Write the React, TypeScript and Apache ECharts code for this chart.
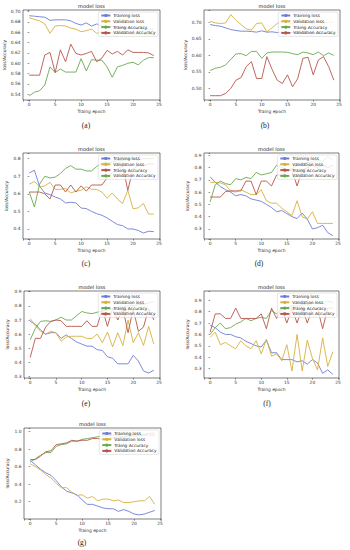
import React, { useEffect, useRef } from 'react';
import * as echarts from 'echarts';

const epochs = [0, 1, 2, 3, 4, 5, 6, 7, 8, 9, 10, 11, 12, 13, 14, 15, 16, 17, 18, 19, 20, 21, 22, 23, 24];
const xTicks = [0, 5, 10, 15, 20, 25];
const legendNames = ['Training loss', 'Validation loss', 'Traing Accuracy', 'Validation Accuracy'];

// (a)
const aTrainLoss = [0.692,0.691,0.690,0.689,0.683,0.684,0.684,0.684,0.682,0.677,0.674,0.678,0.672,0.676,0.672,0.671,0.670,0.670,0.669,0.669,0.668,0.667,0.667,0.666,0.666];
const aValLoss = [0.688,0.685,0.682,0.676,0.658,0.672,0.673,0.672,0.668,0.666,0.661,0.663,0.666,0.658,0.661,0.658,0.659,0.657,0.658,0.657,0.656,0.657,0.656,0.655,0.655];
const aTrainAcc = [0.537,0.544,0.547,0.558,0.593,0.582,0.589,0.583,0.583,0.583,0.609,0.585,0.607,0.606,0.606,0.593,0.573,0.593,0.596,0.600,0.602,0.597,0.606,0.611,0.611];
const aValAcc = [0.577,0.577,0.577,0.616,0.621,0.582,0.626,0.603,0.637,0.619,0.616,0.619,0.623,0.603,0.610,0.625,0.618,0.623,0.616,0.626,0.621,0.621,0.621,0.620,0.615];
// (b)
const bTrainLoss = [0.693,0.690,0.688,0.683,0.678,0.675,0.673,0.673,0.672,0.670,0.674,0.670,0.671,0.669,0.670,0.669,0.669,0.668,0.668,0.668,0.667,0.667,0.667,0.666,0.666];
const bValLoss = [0.703,0.698,0.696,0.698,0.723,0.706,0.693,0.680,0.676,0.696,0.698,0.671,0.683,0.696,0.706,0.700,0.695,0.705,0.690,0.700,0.695,0.703,0.698,0.700,0.701];
const bTrainAcc = [0.554,0.561,0.564,0.571,0.588,0.604,0.605,0.599,0.612,0.612,0.591,0.607,0.610,0.610,0.610,0.609,0.605,0.602,0.610,0.607,0.602,0.610,0.599,0.607,0.600];
const bValAcc = [0.478,0.478,0.478,0.485,0.500,0.525,0.533,0.566,0.581,0.530,0.530,0.596,0.558,0.525,0.515,0.541,0.505,0.530,0.591,0.594,0.541,0.586,0.596,0.566,0.525];
// (c)
const cTrainLoss = [0.718,0.734,0.643,0.605,0.595,0.582,0.571,0.548,0.552,0.548,0.519,0.516,0.500,0.487,0.478,0.463,0.444,0.425,0.419,0.400,0.400,0.392,0.377,0.387,0.385];
const cValLoss = [0.655,0.670,0.640,0.645,0.665,0.625,0.625,0.630,0.605,0.615,0.620,0.640,0.625,0.625,0.610,0.575,0.605,0.570,0.545,0.620,0.515,0.520,0.545,0.485,0.485];
const cTrainAcc = [0.610,0.610,0.610,0.600,0.570,0.650,0.650,0.610,0.650,0.610,0.645,0.615,0.650,0.650,0.650,0.690,0.720,0.740,0.760,0.620,0.740,0.760,0.760,0.770,0.770];
const cValAcc = [0.610,0.525,0.655,0.700,0.690,0.695,0.715,0.745,0.760,0.740,0.740,0.730,0.730,0.755,0.775,0.780,0.780,0.790,0.790,0.795,0.800,0.790,0.800,0.800,0.800];
// (d)
const dTrainLoss = [0.725,0.680,0.645,0.620,0.600,0.570,0.580,0.570,0.545,0.535,0.525,0.500,0.475,0.440,0.450,0.425,0.400,0.385,0.430,0.380,0.300,0.310,0.330,0.270,0.245];
const dValLoss = [0.680,0.680,0.675,0.660,0.610,0.600,0.620,0.600,0.580,0.580,0.620,0.530,0.510,0.510,0.470,0.440,0.410,0.530,0.400,0.380,0.440,0.345,0.345,0.345,0.345];
const dTrainAcc = [0.560,0.560,0.560,0.605,0.610,0.610,0.610,0.690,0.690,0.580,0.690,0.690,0.650,0.740,0.740,0.770,0.780,0.650,0.780,0.800,0.820,0.800,0.820,0.800,0.820];
const dValAcc = [0.520,0.660,0.690,0.670,0.660,0.710,0.700,0.720,0.710,0.760,0.740,0.750,0.760,0.820,0.800,0.780,0.790,0.820,0.830,0.840,0.850,0.860,0.850,0.890,0.860];
// (e)
const eTrainLoss = [0.690,0.670,0.630,0.600,0.610,0.610,0.570,0.595,0.570,0.545,0.530,0.515,0.515,0.490,0.485,0.440,0.430,0.390,0.390,0.390,0.450,0.410,0.340,0.325,0.345];
const eValLoss = [0.710,0.660,0.620,0.600,0.620,0.610,0.550,0.580,0.585,0.585,0.585,0.570,0.570,0.600,0.540,0.615,0.510,0.610,0.520,0.700,0.540,0.610,0.520,0.655,0.530];
const eTrainAcc = [0.560,0.640,0.690,0.695,0.690,0.700,0.720,0.700,0.700,0.730,0.760,0.750,0.745,0.755,0.765,0.770,0.780,0.790,0.790,0.800,0.800,0.810,0.810,0.820,0.830];
const eValAcc = [0.435,0.570,0.570,0.650,0.690,0.700,0.695,0.655,0.655,0.655,0.655,0.695,0.655,0.655,0.780,0.655,0.780,0.700,0.780,0.610,0.780,0.620,0.650,0.780,0.700];
// (f)
const fTrainLoss = [0.680,0.660,0.620,0.600,0.600,0.580,0.570,0.540,0.520,0.500,0.490,0.550,0.440,0.440,0.380,0.380,0.380,0.360,0.370,0.340,0.380,0.350,0.260,0.290,0.250];
const fValLoss = [0.575,0.620,0.510,0.530,0.500,0.475,0.545,0.500,0.475,0.545,0.430,0.560,0.410,0.430,0.370,0.510,0.280,0.600,0.280,0.550,0.390,0.290,0.570,0.320,0.450];
const fTrainAcc = [0.600,0.660,0.700,0.650,0.660,0.690,0.710,0.740,0.720,0.740,0.750,0.740,0.810,0.780,0.830,0.840,0.850,0.850,0.860,0.860,0.870,0.880,0.870,0.890,0.880];
const fValAcc = [0.620,0.780,0.780,0.740,0.740,0.830,0.740,0.740,0.740,0.740,0.780,0.650,0.830,0.740,0.830,0.700,0.830,0.700,0.830,0.700,0.830,0.830,0.650,0.830,0.830];
// (g)
const gTrainLoss = [0.670,0.620,0.570,0.530,0.500,0.440,0.370,0.320,0.300,0.280,0.220,0.170,0.170,0.150,0.130,0.120,0.120,0.090,0.110,0.090,0.060,0.050,0.060,0.080,0.100];
const gValLoss = [0.630,0.600,0.560,0.510,0.470,0.410,0.360,0.360,0.310,0.270,0.280,0.240,0.260,0.210,0.230,0.230,0.210,0.220,0.190,0.190,0.200,0.210,0.210,0.260,0.170];
const gTrainAcc = [0.650,0.690,0.730,0.760,0.760,0.830,0.850,0.860,0.890,0.890,0.910,0.920,0.930,0.940,0.950,0.950,0.960,0.960,0.970,0.960,0.970,0.970,0.970,0.980,0.980];
const gValAcc = [0.680,0.680,0.720,0.770,0.780,0.850,0.860,0.870,0.900,0.890,0.900,0.900,0.920,0.920,0.910,0.920,0.930,0.940,0.940,0.950,0.950,0.950,0.960,0.960,0.960];

const BLUE = '#6e7ed4';
const ORANGE = '#d6b13e';
const GREEN = '#69a94f';
const RED = '#b5574a';
const FONT = 'DejaVu Sans';

const panels = [
  { id: 'a', left: 23, top: 10, width: 137, height: 90, ymin: 0.529, ymax: 0.703, step: 0.02, dec: 2, series: [aTrainLoss, aValLoss, aTrainAcc, aValAcc], colors: [BLUE, ORANGE, GREEN, RED], lx: 86, ly: 125 },
  { id: 'b', left: 204, top: 10, width: 136, height: 90, ymin: 0.465, ymax: 0.737, step: 0.05, dec: 2, series: [bTrainLoss, bValLoss, bTrainAcc, bValAcc], colors: [BLUE, ORANGE, GREEN, RED], lx: 265, ly: 125 },
  { id: 'c', left: 23, top: 153, width: 137, height: 86, ymin: 0.343, ymax: 0.832, step: 0.1, dec: 1, series: [cTrainLoss, cValLoss, cTrainAcc, cValAcc], colors: [BLUE, ORANGE, RED, GREEN], lx: 86, ly: 263 },
  { id: 'd', left: 204, top: 153, width: 135, height: 86, ymin: 0.218, ymax: 0.919, step: 0.1, dec: 1, series: [dTrainLoss, dValLoss, dTrainAcc, dValAcc], colors: [BLUE, ORANGE, RED, GREEN], lx: 259, ly: 263 },
  { id: 'e', left: 24, top: 291, width: 136, height: 87, ymin: 0.29, ymax: 0.905, step: 0.1, dec: 1, series: [eTrainLoss, eValLoss, eTrainAcc, eValAcc], colors: [BLUE, ORANGE, GREEN, RED], lx: 86, ly: 403 },
  { id: 'f', left: 204, top: 291, width: 135, height: 87, ymin: 0.219, ymax: 0.98, step: 0.1, dec: 1, series: [fTrainLoss, fValLoss, fTrainAcc, fValAcc], colors: [BLUE, ORANGE, GREEN, RED], lx: 267, ly: 403 },
  { id: 'g', left: 24, top: 428, width: 137, height: 91, ymin: 0.003, ymax: 1.04, step: 0.2, dec: 1, series: [gTrainLoss, gValLoss, gTrainAcc, gValAcc], colors: [BLUE, ORANGE, GREEN, RED], lx: 82, ly: 542 },
];

const isMult = (v: number, s: number) => Math.abs(v / s - Math.round(v / s)) < 1e-6;

function buildOption() {
  const grid: any[] = [];
  const xAxis: any[] = [];
  const yAxis: any[] = [];
  const series: any[] = [];
  const legend: any[] = [];
  const graphic: any[] = [];
  panels.forEach((p, i) => {
    grid.push({ left: p.left, top: p.top, width: p.width, height: p.height, show: true, borderColor: '#262626', borderWidth: 0.6, containLabel: false });
    xAxis.push({
      type: 'value', gridIndex: i, min: -1.2, max: 25.2, minInterval: 5, maxInterval: 5,
      splitLine: { show: false }, axisLine: { show: false },
      axisTick: { show: true, length: 1.6, lineStyle: { color: '#262626', width: 0.5 } },
      axisLabel: { fontSize: 4.4, fontFamily: FONT, color: '#333', margin: 2, showMinLabel: true, showMaxLabel: true,
        formatter: (v: number) => (isMult(v, 5) && xTicks.indexOf(Math.round(v)) >= 0 ? String(Math.round(v)) : '') },
      name: 'Traing epoch', nameLocation: 'middle', nameGap: 9,
      nameTextStyle: { fontSize: 4.4, fontFamily: FONT, color: '#333' },
    });
    yAxis.push({
      type: 'value', gridIndex: i, min: p.ymin, max: p.ymax, minInterval: p.step, maxInterval: p.step,
      splitLine: { show: false }, axisLine: { show: false },
      axisTick: { show: true, length: 1.6, lineStyle: { color: '#262626', width: 0.5 } },
      axisLabel: { fontSize: 4.4, fontFamily: FONT, color: '#333', margin: 2.5, showMinLabel: true, showMaxLabel: true,
        formatter: (v: number) => (isMult(v, p.step) ? v.toFixed(p.dec) : '') },
      name: 'loss/Accuracy', nameLocation: 'middle', nameGap: 15, nameRotate: 90,
      nameTextStyle: { fontSize: 4.4, fontFamily: FONT, color: '#333' },
    });
    const names = legendNames.map((n) => n + '#' + p.id);
    p.series.forEach((vals, k) => {
      series.push({
        type: 'line', name: names[k], xAxisIndex: i, yAxisIndex: i,
        data: epochs.map((e, j) => [e, vals[j]]),
        symbol: 'none', showSymbol: false,
        lineStyle: { width: 0.9, color: p.colors[k] }, itemStyle: { color: p.colors[k] },
        z: 2,
      });
    });
    legend.push({
      data: names, orient: 'vertical', right: 350 - (p.left + p.width) + 2, top: p.top + 2,
      selectedMode: false, itemWidth: 9, itemHeight: 4, itemGap: 1.8,
      padding: [1.5, 2.5, 1.5, 2],
      borderColor: '#cccccc', borderWidth: 0.5, borderRadius: 1.5,
      backgroundColor: 'rgba(255,255,255,0.8)',
      textStyle: { fontSize: 4.3, fontFamily: FONT, color: '#222', padding: [0, 0, 0, -2] },
      formatter: (n: string) => n.split('#')[0],
      z: 10,
    });
    graphic.push({
      type: 'text', x: p.left + p.width / 2, y: p.top - 4.5,
      style: { text: 'model loss', fontSize: 5, fontFamily: FONT, fill: '#222', textAlign: 'center', textVerticalAlign: 'middle', align: 'center', verticalAlign: 'middle' },
    });
    graphic.push({
      type: 'text', x: p.lx, y: p.ly,
      style: { text: '(' + p.id + ')', fontSize: 7.5, fontFamily: 'Liberation Serif', fill: '#222', textAlign: 'center', textVerticalAlign: 'middle', align: 'center', verticalAlign: 'middle' },
    });
  });
  return { animation: false, backgroundColor: '#ffffff', grid, xAxis, yAxis, series, legend, graphic };
}

export default function App() {
  const ref = useRef<HTMLDivElement>(null);
  useEffect(() => {
    if (!ref.current) return;
    const chart = echarts.init(ref.current, undefined, { renderer: 'svg' });
    chart.setOption(buildOption() as any);
    return () => chart.dispose();
  }, []);
  return <div ref={ref} style={{ position: 'absolute', left: 0, top: 0, width: 350, height: 550, background: '#fff' }} />;
}
